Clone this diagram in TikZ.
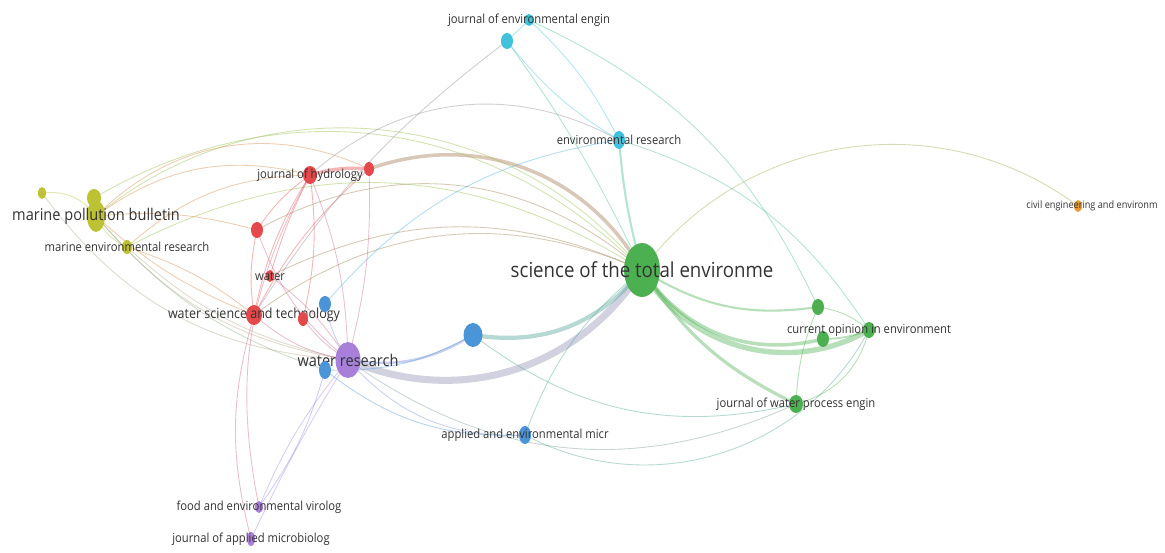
\documentclass[tikz,border=0pt]{standalone}
\usepackage{fontspec}
\setmainfont{Open Sans}[FakeStretch=0.9]
\usetikzlibrary{shapes.geometric,backgrounds}
\definecolor{vgreen}{HTML}{4CB050}
\definecolor{vred}{HTML}{E5484B}
\definecolor{vblue}{HTML}{4A94D8}
\definecolor{vpurple}{HTML}{A880DA}
\definecolor{vyellow}{HTML}{BDC232}
\definecolor{vcyan}{HTML}{40C2DC}
\definecolor{vorange}{HTML}{E89A35}
\definecolor{vtext}{HTML}{333333}

\begin{document}
\begin{tikzpicture}[x=0.02cm, y=-0.02cm,
  dot/.style n args={3}{ellipse, inner sep=0pt, fill=#1, minimum width=#2*0.04cm, minimum height=#3*0.04cm},
  lab/.style={inner sep=0pt, text=vtext, font=\fontsize{7.1}{8}\selectfont},
  labs/.style={lab, font=\fontsize{5.8}{7}\selectfont},
  labm/.style={lab, font=\fontsize{7.9}{9}\selectfont},
  labl/.style={lab, font=\fontsize{9.2}{11}\selectfont},
  labx/.style={lab, font=\fontsize{11.8}{14}\selectfont},
  lk/.style={line width=0.5pt, draw opacity=0.4}]
 \useasboundingbox (0,0) rectangle (1165,553);
 % journals
 \node[dot={vgreen}{18}{27}, label={[labx]center:science of the total environme}] (sci) at (642,270) {};
 \node[dot={vpurple}{12.5}{18}, label={[labl]center:water research}] (wr) at (348,360) {};
 \node[dot={vyellow}{7}{9}] (mpbB) at (94,198) {};
 \node[dot={vyellow}{9}{16}, label={[labl]center:marine pollution bulletin}] (mpb) at (96,216) {};
 \node[dot={vyellow}{4}{6}] (yel) at (42,193) {};
 \node[dot={vyellow}{5}{7}, label={[lab]center:marine environmental research}] (mer) at (127,247) {};
 \node[dot={vred}{7}{9}, label={[lab]center:journal of hydrology}] (jhyd) at (310,175) {};
 \node[dot={vred}{5}{7}] (redb) at (369,169) {};
 \node[dot={vred}{6}{8}] (redc) at (257,230) {};
 \node[dot={vred}{4}{6}, label={[lab]center:water}] (water) at (270,276) {};
 \node[dot={vred}{8}{10}, label={[labm]center:water science and technology}] (wst) at (254,315) {};
 \node[dot={vred}{5}{7}] (redd) at (303,319) {};
 \node[dot={vblue}{6}{8}] (blua) at (325,304) {};
 \node[dot={vblue}{6}{9}] (blub) at (325,370) {};
 \node[dot={vblue}{9.5}{12}] (bluc) at (473,335) {};
 \node[dot={vblue}{6}{9}, label={[lab]center:applied and environmental micr}] (aem) at (525,435) {};
 \node[dot={vcyan}{5}{6}, label={[lab]center:journal of environmental engin}] (jee) at (529,20) {};
 \node[dot={vcyan}{6}{8}] (jeeb) at (507,41) {};
 \node[dot={vcyan}{6}{9}, label={[lab]center:environmental research}] (envres) at (619,140) {};
 \node[dot={vgreen}{6}{8}] (grna) at (818,307) {};
 \node[dot={vgreen}{6}{8}] (grnb) at (823,339) {};
 \node[dot={vgreen}{6}{8}, label={[lab]center:current opinion in environment}] (coi) at (869,330) {};
 \node[dot={vgreen}{7}{9}, label={[lab]center:journal of water process engin}] (jwpe) at (796,404) {};
 \node[dot={vorange}{4}{6}, label={[labs, xshift=0.28cm]center:civil engineering and environm}] (civil) at (1078,206) {};
 \node[dot={vpurple}{4}{6}, label={[lab]center:food and environmental virolog}] (fev) at (259,507) {};
 \node[dot={vpurple}{4}{7}, label={[lab]center:journal of applied microbiolog}] (jam) at (251,539) {};
 % links
 \begin{scope}[on background layer]
  \fill[white] (0,0) rectangle (1165,553);
  \draw[lk, line width=4pt, draw=vpurple!70!vgreen] (wr.center) to[bend right=40] (sci.center);
  \draw[lk, line width=2.4pt, draw=vblue!50!vgreen] (bluc.center) to[bend right=30] (sci.center);
  \draw[lk, line width=1.4pt, draw=vpurple!50!vblue] (wr.center) to[bend right=20] (bluc.center);
  \draw[lk, line width=3pt, draw=vgreen] (sci.center) to[bend right=45] (coi.center);
  \draw[lk, line width=2pt, draw=vgreen] (sci.center) to[bend right=35] (grnb.center);
  \draw[lk, line width=1.2pt, draw=vgreen] (sci.center) to[bend right=20] (grna.center);
  \draw[lk, line width=1.8pt, draw=vgreen] (sci.center) to[bend right=15] (jwpe.center);
  \draw[lk, line width=2pt, draw=vred!55!vgreen] (redb.center) to[bend left=40] (sci.center);
  \draw[lk, line width=2pt, draw=vred] (jhyd.center) to[bend left=10] (redb.center);
  \draw[lk, line width=1.2pt, draw=vcyan!50!vgreen] (envres.center) to[bend right=5] (sci.center);
  \foreach \u/\v/\b/\c in {
    mpb/sci/45/vyellow!60!vgreen, mpbB/sci/38/vyellow!60!vgreen, mer/sci/30/vyellow!60!vgreen,
    mpb/jhyd/25/vyellow!50!vred, mpb/redb/35/vyellow!50!vred, mpb/wst/-10/vyellow!50!vred,
    mpb/wr/-20/vyellow!50!vpurple, mer/wr/-15/vyellow!50!vpurple, yel/wr/-25/vyellow!50!vpurple,
    yel/mpb/30/vyellow, mer/mpb/20/vyellow, mer/wst/10/vyellow!50!vred, mpb/redc/10/vyellow!50!vred,
    mer/jhyd/20/vyellow!50!vred, mpb/blub/-15/vyellow!50!vblue,
    jhyd/wst/-10/vred, jhyd/water/-5/vred, jhyd/wr/10/vred!50!vpurple, redc/jhyd/10/vred,
    redc/wst/-10/vred, redc/wr/-15/vred!50!vpurple, redc/sci/35/vred!50!vgreen, water/sci/25/vred!50!vgreen,
    wst/sci/30/vred!50!vgreen, wst/wr/-15/vred!50!vpurple, water/wr/10/vred!50!vpurple, redd/wr/-10/vred!50!vpurple,
    redd/jhyd/-10/vred, redb/wr/8/vred!50!vpurple, redb/wst/-10/vred, jhyd/fev/-20/vred!60!vpurple,
    wst/jam/-15/vred!60!vpurple, jhyd/envres/35/vred!50!vcyan,
    wr/fev/-8/vpurple, wr/jam/-3/vpurple, blub/fev/10/vpurple!60!vblue, wr/aem/-25/vpurple!50!vblue,
    wr/jwpe/-30/vpurple!50!vgreen, wr/blua/10/vpurple!50!vblue,
    blua/envres/20/vblue!50!vcyan, blub/bluc/-15/vblue, bluc/jwpe/-25/vblue!50!vgreen,
    aem/sci/15/vblue!50!vgreen, aem/coi/-45/vblue!50!vgreen, blub/aem/-20/vblue,
    jeeb/sci/5/vcyan!50!vgreen, jeeb/envres/-10/vcyan, jeeb/wst/-10/vcyan!50!vred, jee/jeeb/0/vcyan,
    jee/envres/10/vcyan, jee/grna/20/vcyan!50!vgreen, envres/coi/20/vcyan!50!vgreen,
    grna/coi/15/vgreen, jwpe/coi/-30/vgreen, jwpe/grna/10/vgreen, sci/civil/45/vorange!50!vgreen}
   \draw[lk, draw=\c] (\u.center) to[bend left=\b] (\v.center);
  \draw[lk, line width=1pt, draw=vgreen] (grnb.center) to[bend right=10] (coi.center);
 \end{scope}
\end{tikzpicture}
\end{document}
